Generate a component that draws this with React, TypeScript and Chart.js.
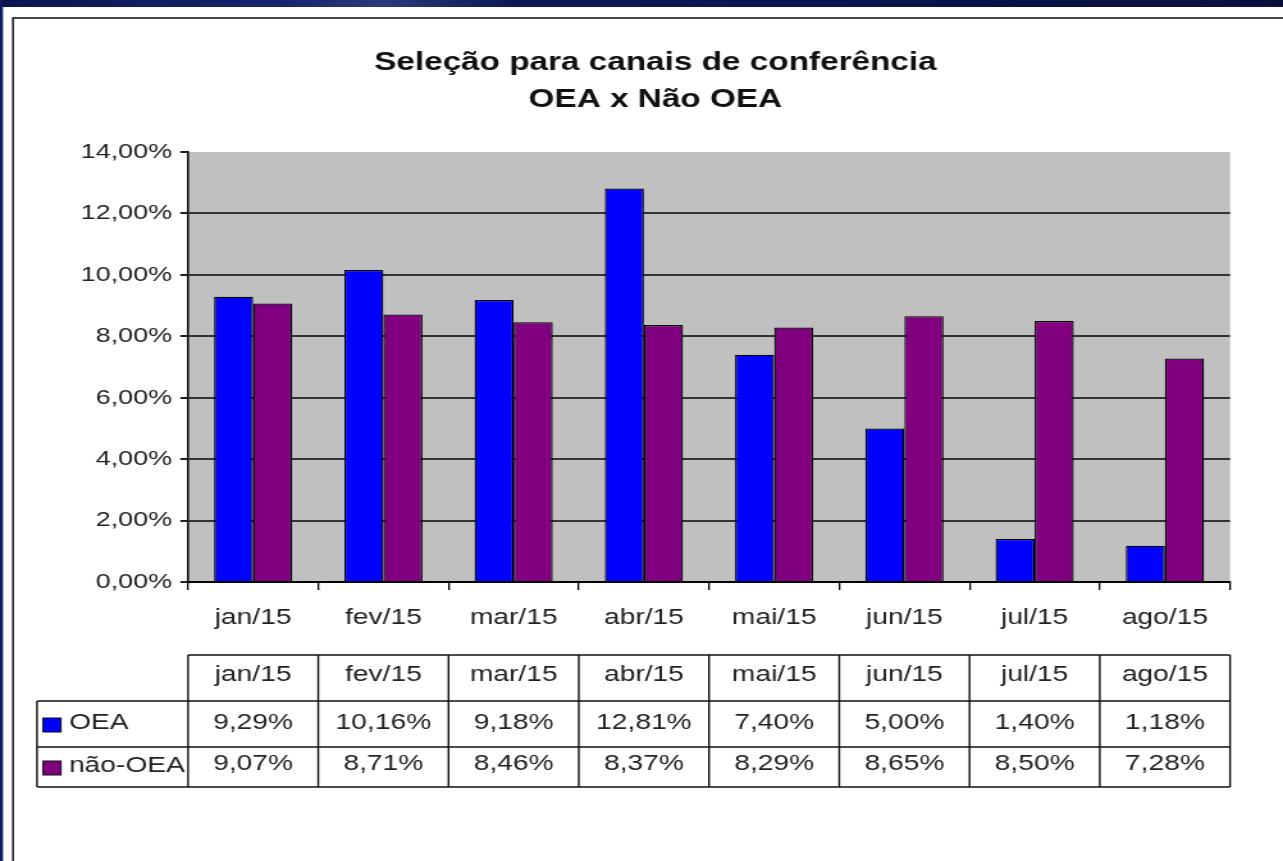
import React, { useEffect, useRef } from "react";
import { Chart, registerables } from "chart.js";

Chart.register(...registerables);

const months = ["jan/15", "fev/15", "mar/15", "abr/15", "mai/15", "jun/15", "jul/15", "ago/15"];
const oeaValues = [9.29, 10.16, 9.18, 12.81, 7.4, 5.0, 1.4, 1.18];
const naoOeaValues = [9.07, 8.71, 8.46, 8.37, 8.29, 8.65, 8.5, 7.28];
const seriesNames = ["OEA", "não-OEA"];
const seriesColors = ["#0000FF", "#800080"];
const titleLines = ["Seleção para canais de conferência", "OEA x Não OEA"];
const yMax = 14;
const yStep = 2;

const PAGE_W = 1283;
const PAGE_H = 861;
const STRETCH = 1.2804; // the reference is stretched horizontally
const CANVAS_W = Math.round(PAGE_W / STRETCH);
const sx = (x: number) => x / STRETCH;

const fmtPct = (v: number) => v.toFixed(2).replace(".", ",") + "%";

const FONT = "Arial, 'Liberation Sans', sans-serif";
const TEXT = "#222";

const framePlugin = {
  id: "frame",
  beforeDraw(chart: any) {
    const { ctx, chartArea } = chart;
    ctx.save();
    ctx.fillStyle = "#ffffff";
    ctx.fillRect(0, 0, chart.width, chart.height);
    // navy top band
    const g = ctx.createLinearGradient(0, 0, chart.width, 0);
    g.addColorStop(0, "#0a1450");
    g.addColorStop(0.22, "#16266e");
    g.addColorStop(0.3, "#2a3a7a");
    g.addColorStop(0.4, "#0c1858");
    g.addColorStop(1, "#08103e");
    ctx.fillStyle = g;
    ctx.fillRect(0, 0, chart.width, 7);
    // left navy strip
    ctx.fillStyle = "#0d1a5e";
    ctx.fillRect(0, 0, sx(3), chart.height);
    // frame lines
    ctx.strokeStyle = "#444";
    ctx.lineWidth = 2;
    ctx.beginPath();
    ctx.moveTo(sx(12), 18);
    ctx.lineTo(chart.width, 18);
    ctx.stroke();
    ctx.strokeStyle = "#222";
    ctx.lineWidth = sx(2);
    ctx.beginPath();
    ctx.moveTo(sx(13), 18);
    ctx.lineTo(sx(13), chart.height);
    ctx.stroke();
    // plot background
    ctx.fillStyle = "#C0C0C0";
    ctx.fillRect(chartArea.left, chartArea.top, chartArea.right - chartArea.left, chartArea.bottom - chartArea.top);
    ctx.restore();
  },
};

const tablePlugin = {
  id: "dataTable",
  afterDraw(chart: any) {
    const { ctx } = chart;
    const xs = chart.scales.x;
    const n = months.length;
    const w = (xs.right - xs.left) / n;
    const left = xs.left;
    const right = xs.right;
    const yHead = 655;
    const yRow1 = 701;
    const yRow2 = 747;
    const yBot = 787;
    const legLeft = sx(37);
    ctx.save();
    ctx.strokeStyle = "#111";
    // horizontal lines
    ctx.lineWidth = 1.6;
    ctx.beginPath();
    ctx.moveTo(left, yHead);
    ctx.lineTo(right, yHead);
    [yRow1, yRow2, yBot].forEach((y) => {
      ctx.moveTo(legLeft, y);
      ctx.lineTo(right, y);
    });
    ctx.stroke();
    // vertical lines
    ctx.lineWidth = sx(1.8);
    ctx.beginPath();
    ctx.moveTo(legLeft, yRow1);
    ctx.lineTo(legLeft, yBot);
    for (let i = 0; i <= n; i++) {
      const x = left + i * w;
      ctx.moveTo(x, yHead);
      ctx.lineTo(x, yBot);
    }
    ctx.stroke();

    ctx.fillStyle = TEXT;
    ctx.font = `22px ${FONT}`;
    ctx.textAlign = "center";
    ctx.textBaseline = "middle";
    const rows = [oeaValues, naoOeaValues];
    for (let i = 0; i < n; i++) {
      const cx = left + i * w + w / 2;
      ctx.fillText(months[i], cx, (yHead + yRow1) / 2 - 3);
      ctx.fillText(fmtPct(rows[0][i]), cx, (yRow1 + yRow2) / 2 - 1);
      ctx.fillText(fmtPct(rows[1][i]), cx, (yRow2 + yBot) / 2 - 3);
    }
    // legend cells
    const rowMids = [(yRow1 + yRow2) / 2, (yRow2 + yBot) / 2];
    rowMids.forEach((my, k) => {
      ctx.fillStyle = seriesColors[k];
      ctx.fillRect(sx(43), my - 6, sx(18), 14);
      ctx.strokeStyle = "#111";
      ctx.lineWidth = 1;
      ctx.strokeRect(sx(43), my - 6, sx(18), 14);
      ctx.fillStyle = TEXT;
      ctx.textAlign = "left";
      ctx.fillText(seriesNames[k], sx(69), my - 1);
    });
    ctx.restore();
  },
};

export default function App() {
  const ref = useRef<HTMLCanvasElement | null>(null);
  useEffect(() => {
    if (!ref.current) return;
    const chart = new Chart(ref.current, {
      type: "bar",
      data: {
        labels: months,
        datasets: [
          {
            label: seriesNames[0],
            data: oeaValues,
            backgroundColor: seriesColors[0],
            borderColor: "#000",
            borderWidth: 1.3,
            categoryPercentage: 0.6,
            barPercentage: 1.0,
          },
          {
            label: seriesNames[1],
            data: naoOeaValues,
            backgroundColor: seriesColors[1],
            borderColor: "#000",
            borderWidth: 1.3,
            categoryPercentage: 0.6,
            barPercentage: 1.0,
          },
        ],
      },
      plugins: [framePlugin, tablePlugin],
      options: {
        responsive: false,
        animation: false,
        devicePixelRatio: 1,
        layout: { padding: { left: 63, right: CANVAS_W - sx(1230), top: 0, bottom: 219 } },
        plugins: {
          legend: { display: false },
          tooltip: { enabled: false },
          title: {
            display: true,
            text: titleLines,
            color: "#111",
            font: { family: FONT, size: 26, weight: "bold", lineHeight: 1.4 },
            padding: { top: 44.8, bottom: 34.4 },
          },
        },
        scales: {
          x: {
            offset: true,
            grid: {
              offset: true,
              drawOnChartArea: false,
              tickLength: 8,
              tickColor: "#000",
              lineWidth: 1.3,
            },
            border: { display: true, color: "#000", width: 2 },
            ticks: {
              color: TEXT,
              padding: 15,
              font: { family: FONT, size: 22, lineHeight: 1.2 },
              maxRotation: 0,
              autoSkip: false,
            },
            afterFit: (s: any) => {
              s.height = 60;
            },
          },
          y: {
            min: 0,
            max: yMax,
            ticks: {
              stepSize: yStep,
              color: TEXT,
              padding: 6.5,
              font: { family: FONT, size: 21 },
              callback: (v: any) => fmtPct(Number(v)),
            },
            grid: {
              color: (c: any) => (c.tick && c.tick.value === yMax ? "rgba(0,0,0,0)" : "#333"),
              tickColor: "#222",
              lineWidth: 2,
              tickLength: 6,
            },
            border: { display: true, color: "#000", width: 1.5 },
            afterFit: (s: any) => {
              s.width = sx(188) - 63;
            },
          },
        },
      },
    });
    return () => chart.destroy();
  }, []);
  return (
    <canvas
      ref={ref}
      width={CANVAS_W}
      height={PAGE_H}
      style={{ position: "fixed", left: 0, top: 0, width: PAGE_W + "px", height: PAGE_H + "px", display: "block" }}
    />
  );
}
